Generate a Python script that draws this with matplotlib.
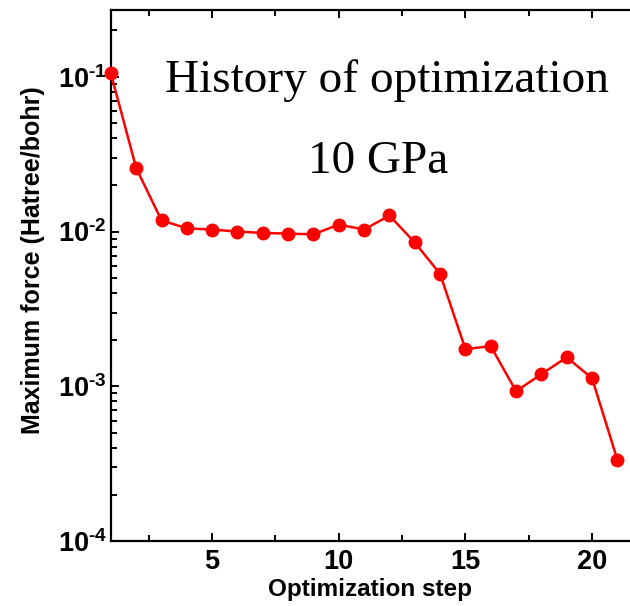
import matplotlib
matplotlib.use('Agg')
import matplotlib.pyplot as plt
from matplotlib.ticker import LogLocator, FixedLocator, FuncFormatter
import numpy as np

plt.rcParams['font.family'] = 'Liberation Sans'
plt.rcParams['font.weight'] = 'bold'
plt.rcParams['mathtext.fontset'] = 'custom'
plt.rcParams['mathtext.rm'] = 'Liberation Sans:bold'
plt.rcParams['mathtext.bf'] = 'Liberation Sans:bold'
plt.rcParams['mathtext.default'] = 'rm'

steps = list(range(1, 22))
max_force = [0.105, 0.0257, 0.0118, 0.0105, 0.0103, 0.0100, 0.0098, 0.0097,
             0.0096, 0.0111, 0.0103, 0.0127, 0.0085, 0.00533, 0.00174, 0.00182,
             0.00093, 0.0012, 0.00154, 0.00113, 0.000336]
x_major = [5, 10, 15, 20]
x_minor = [2.5, 7.5, 12.5, 17.5]


def log_label(v, pos):
    e = int(round(np.log10(v)))
    return r'$10^{\text{%d}}$' % e


fig = plt.figure(figsize=(6.3, 6.06), dpi=100)
ax = fig.add_axes([0.176, 0.107, 0.824, 0.8765])

ax.plot(steps, max_force, color='#ff0000', lw=1.8, marker='o', markersize=9,
        clip_on=False, zorder=3)

ax.set_yscale('log')
ax.set_xlim(1, 21.5)
ax.set_ylim(1e-4, 0.27)

ax.xaxis.set_major_locator(FixedLocator(x_major))
ax.xaxis.set_minor_locator(FixedLocator(x_minor))
ax.yaxis.set_major_locator(LogLocator(base=10, numticks=10))
ax.yaxis.set_minor_locator(LogLocator(base=10, subs=np.arange(2, 10), numticks=10))
ax.yaxis.set_major_formatter(FuncFormatter(log_label))

for s in ['left', 'top', 'bottom']:
    ax.spines[s].set_linewidth(1.6)
ax.spines['right'].set_visible(False)

ax.tick_params(which='both', direction='in', top=True, right=False, width=1.4)
ax.tick_params(which='major', length=6, labelsize=19.5)
ax.tick_params(axis='y', which='major', pad=3)
ax.tick_params(axis='x', which='major', pad=6)
ax.tick_params(which='minor', length=4)
for lab in ax.get_xticklabels() + ax.get_yticklabels():
    lab.set_fontweight('bold')

ax.set_xlabel('Optimization step', fontsize=17.5, fontweight='bold', labelpad=2)
ax.set_ylabel('Maximum force (Hatree/bohr)', fontsize=18, fontweight='bold')
ax.yaxis.set_label_coords(-0.126, 0.529)

ax.text(0.532, 0.846, 'History of optimization', transform=ax.transAxes,
        family='Liberation Serif', fontweight='normal', fontsize=34,
        ha='center', va='baseline')
ax.text(0.515, 0.693, '10 GPa', transform=ax.transAxes,
        family='Liberation Serif', fontweight='normal', fontsize=34,
        ha='center', va='baseline')

fig.savefig('out.png', dpi=100)
